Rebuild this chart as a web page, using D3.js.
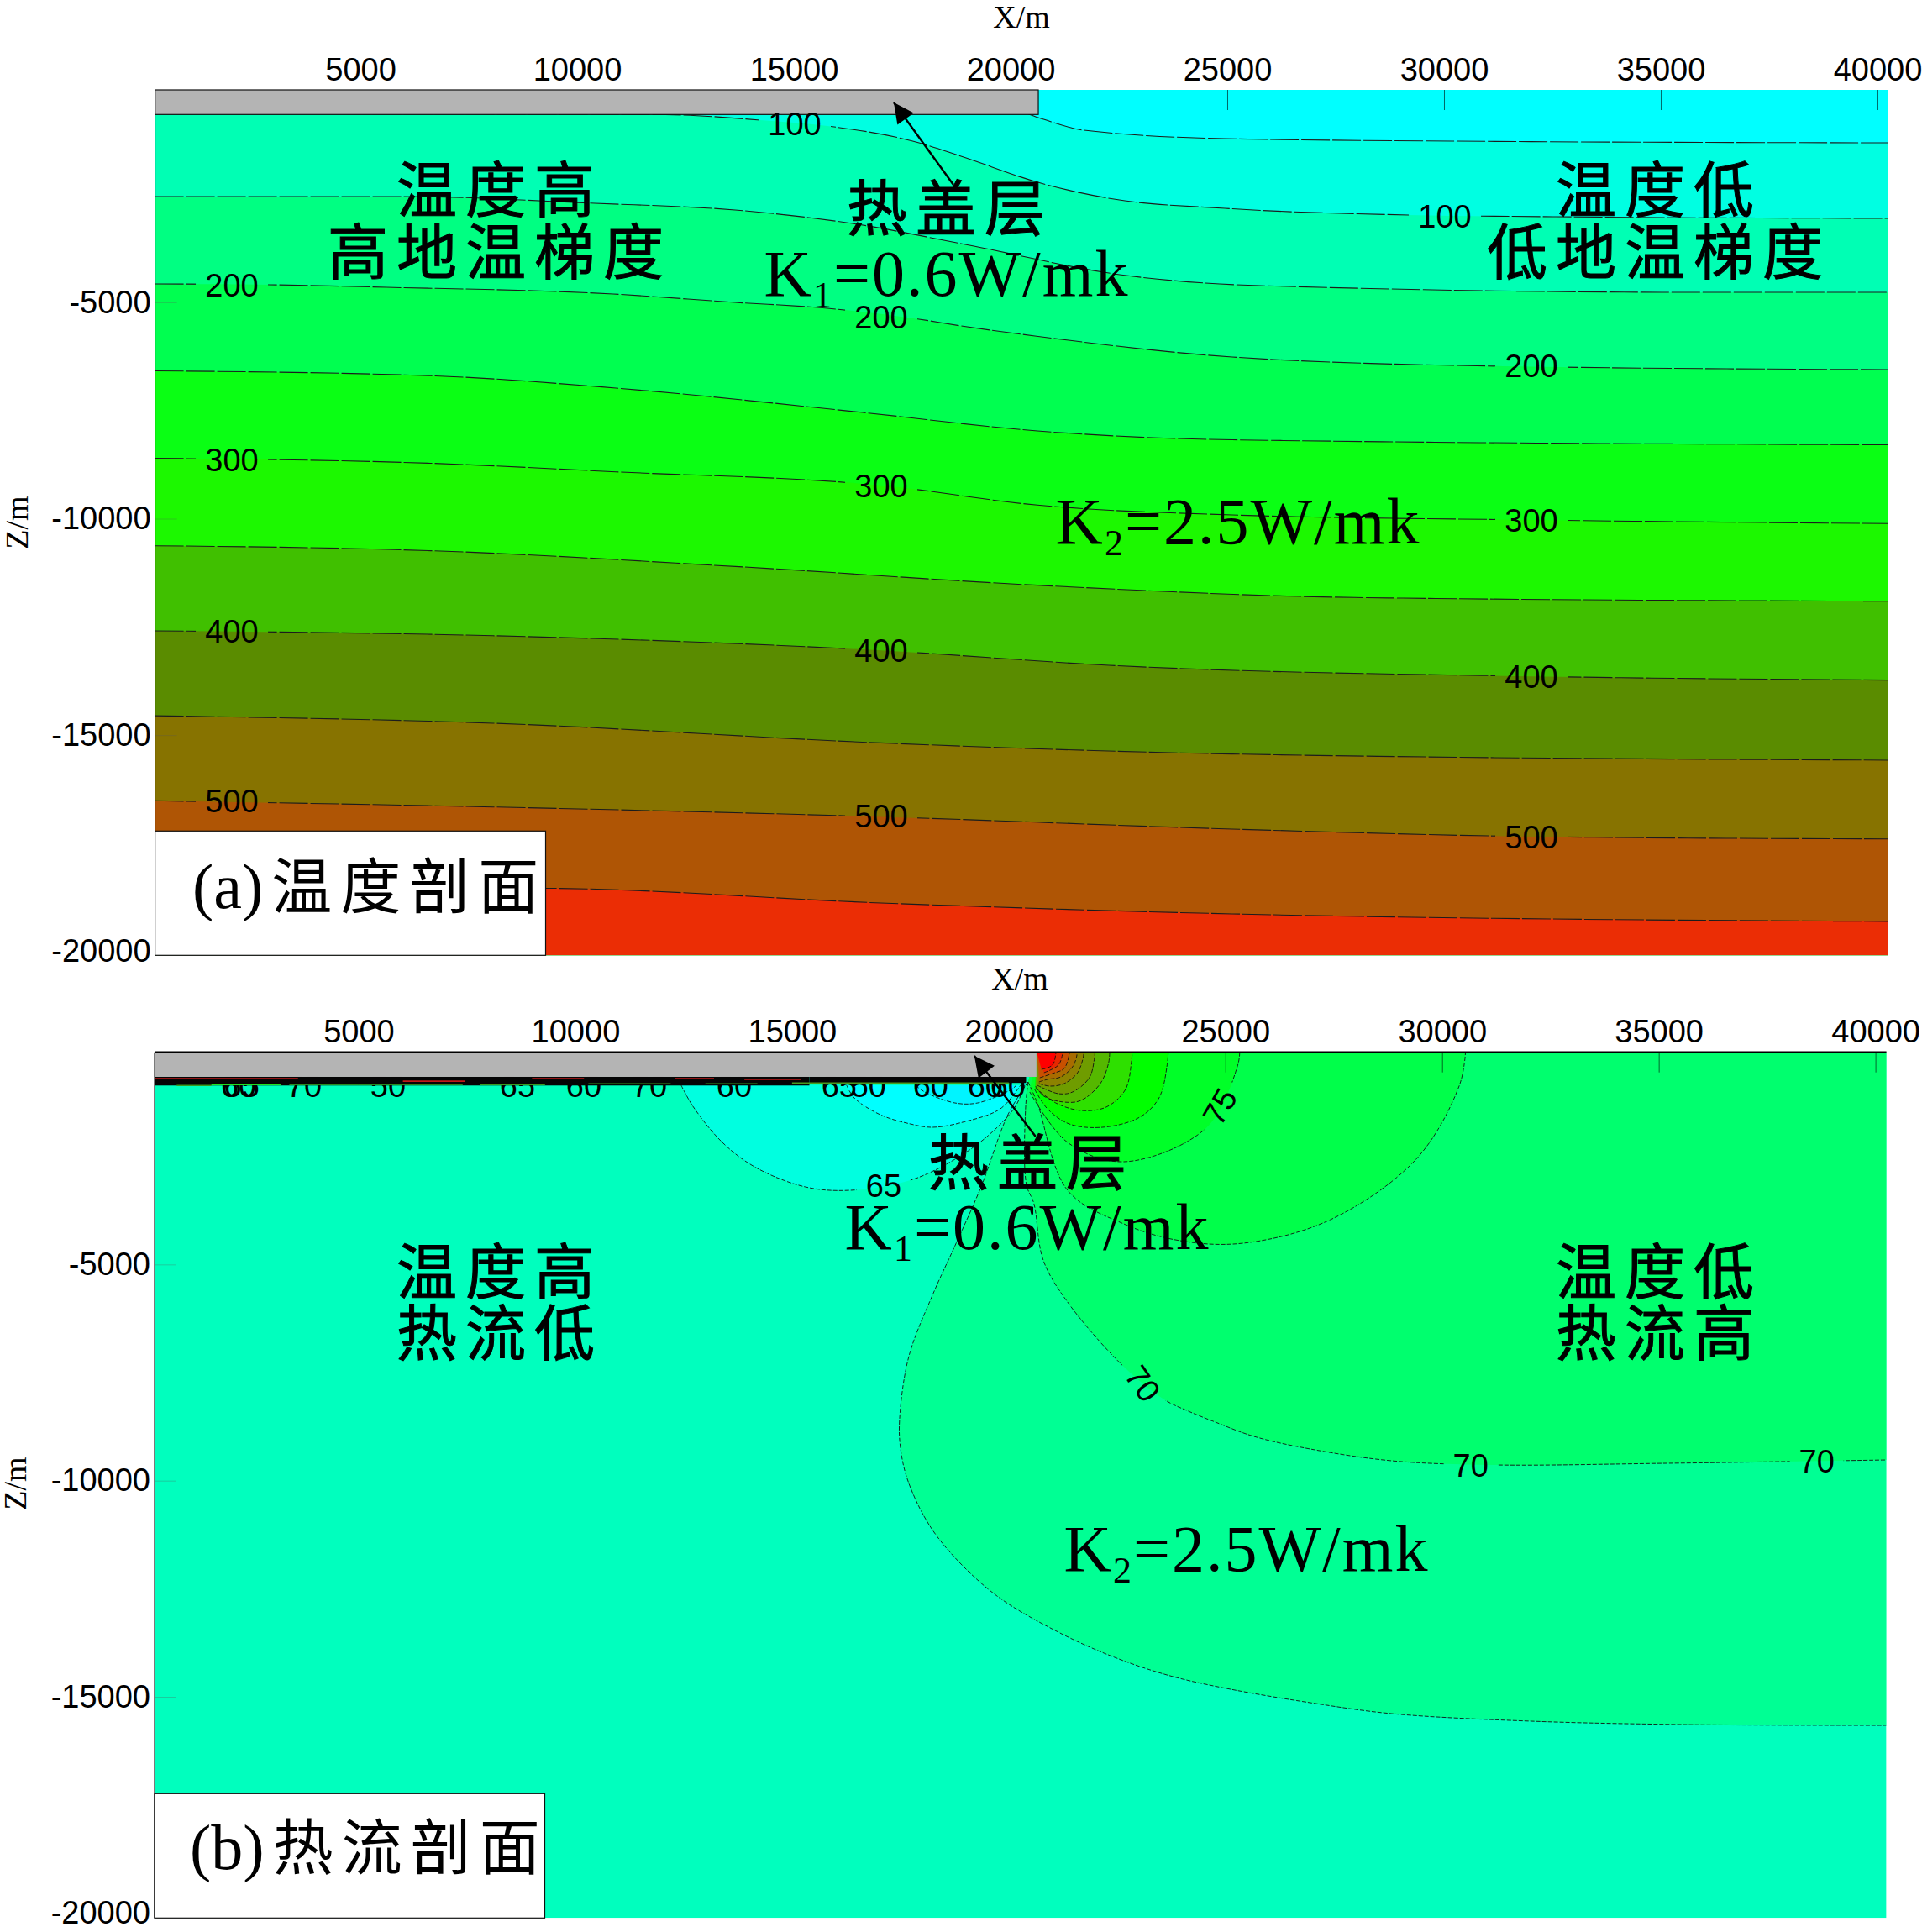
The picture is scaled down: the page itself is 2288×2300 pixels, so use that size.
<!DOCTYPE html>
<html><head><meta charset="utf-8">
<script src="https://cdnjs.cloudflare.com/ajax/libs/d3/7.8.5/d3.min.js"></script>
<style>html,body{margin:0;padding:0;background:#fff}svg{display:block}</style>
</head><body><svg id="c" width="2288" height="2300"></svg>
<script>
// ---------- shared axis values ----------
const xTicks = [5000,10000,15000,20000,25000,30000,35000,40000];
const depthTicks = [5000,10000,15000,20000];   // labelled as negative Z

// ---------- (a) temperature isotherms: [x metres, depth metres] ----------
const iso050 = [[263,500],[19900,500],[20640,732],[21686,1023],[24942,1217],[30175,1275],[40233,1314]];
const iso100 = [[263,640],[12035,664],[14225,790],[15775,926],[17888,1314],[18857,1625],[20698,2246],[22384,2615],[24942,2828],[29186,2983],[32578,3022],[40233,3061]];
const iso150 = [[263,2556],[5988,2556],[10407,2712],[13644,2867],[16473,3197],[18857,3643],[22675,4381],[25756,4614],[35969,4769],[40233,4769]];
const iso200 = [[263,4575],[2907,4594],[5601,4653],[10833,4808],[13644,5002],[15775,5138],[17888,5390],[18857,5545],[20562,5778],[25116,6264],[31357,6477],[40233,6555]];
const iso250 = [[263,6584],[6628,6697],[10892,6982],[16589,7545],[20620,7972],[25116,8177],[40233,8292]];
const iso300 = [[263,8604],[6628,8719],[10892,8917],[17010,9231],[20620,9686],[25116,9913],[32016,10029],[40233,10113]];
const iso350 = [[263,10625],[6628,10740],[13740,11110],[20620,11537],[27946,11821],[40233,11906]];
const iso400 = [[263,12591],[8056,12704],[17010,13045],[22268,13387],[32016,13643],[40233,13729]];
const iso450 = [[263,14554],[8056,14726],[17010,15181],[25116,15437],[40233,15580]];
const iso500 = [[263,16518],[8056,16662],[17010,16889],[25116,17172],[32016,17345],[40233,17401]];
const iso550 = [[263,18511],[9277,18540],[17010,18880],[25116,19132],[40233,19307]];
const isotherms = [iso050,iso100,iso150,iso200,iso250,iso300,iso350,iso400,iso450,iso500,iso550];
const tempBandColors = ["#00ffff","#00ffe2","#00ffb4","#00ff82","#00ff50","#0aff14","#1cf800","#40c000","#5a8c00","#877300","#af5505","#eb2d05"];
// contour labels: [value, x metres, depth metres]
const tempLabels = [[100,15020,868],[100,30020,3003],[200,2035,4594],[200,17016,5332],[200,32016,6470],
 [300,2035,8632],[300,17016,9233],[300,32016,10029],[400,2035,12591],[400,17016,13045],[400,32016,13640],
 [500,2035,16512],[500,17016,16862],[500,32016,17347]];

// ---------- (b) heat-flow contours: [x metres, depth metres] ----------
const flowOuter = [[20446,777],[19981,1535],[19361,3206],[18760,4566],[18256,5674],[17694,7131],[17481,8588],[17500,9229],[17655,9948],[18101,10920],[18682,11697],[19729,12668],[21144,13504],[22442,14087],[23721,14514],[25020,14806],[26958,15136],[28837,15389],[32035,15563],[35524,15641],[40252,15661]];
const flowInner = [[20446,777],[20388,1399],[20407,3148],[20582,3595],[20795,4896],[21357,5868],[22636,7345],[23585,8122],[24147,8394],[24768,8646],[25659,8977],[26958,9268],[28837,9540],[31221,9637],[35213,9598],[40252,9521]];
const flowArcA = [[20446,777],[20659,1263],[21357,3284],[22655,4061],[23954,4449],[25407,4508],[27423,3964],[29419,2545],[30407,835],[30543,60]];
const flowArcB = [[20485,1010],[21357,2176],[22655,2623],[24554,1846],[25291,369],[25330,60]];
const flowArcC = [[20601,952],[20892,1399],[21396,1749],[22171,1826],[23023,1593],[23469,1146],[23663,330],[23680,60]];
const flowArcD = [[20620,913],[21085,1263],[21667,1438],[22248,1360],[22694,952],[22830,330],[22850,60]];
const flowArcE = [[20620,874],[20814,1108],[21279,1244],[21667,1205],[22113,816],[22306,330],[22330,60]];
const flowArcF = [[20659,855],[21144,1049],[21473,1010],[21861,680],[21977,233],[21990,60]];
const flowArcG = [[20698,816],[20950,874],[21279,816],[21589,563],[21725,175],[21730,60]];
const flowArcH = [[20698,777],[20892,719],[21202,661],[21473,427],[21570,175],[21575,60]];
const flowArcI = [[20717,680],[21008,583],[21279,466],[21396,136],[21400,60]];
const flowArcJ = [[20814,563],[21144,389],[21240,136],[21245,60]];
const flowArcK = [[20756,486],[21008,389],[21085,136],[21090,60]];
const warmArcs = [flowOuter,flowInner,flowArcA,flowArcB,flowArcC,flowArcD,flowArcE,flowArcF,flowArcG,flowArcH,flowArcI,flowArcJ,flowArcK];
const warmColors = ["#00ff94","#00ff6e","#00ff4a","#00ff28","#00ff00","#2ee000","#55b800","#6f9c00","#8c8200","#a86c00","#c85000","#e62800","#ff0000"];
const flowBase = "#00ffbe";
const coolP = [[12442,855],[12713,1341],[13392,2176],[14167,2759],[15310,3206],[16337,3284],[17733,3051],[18857,2506],[19632,1924],[20155,1341],[20368,855]];
const coolQ = [[16260,855],[16434,1146],[17035,1535],[17733,1749],[18237,1826],[19012,1690],[19806,1399],[20271,855]];
const coolR = [[17849,855],[18062,1010],[18760,1263],[19283,1263],[20058,952],[20175,855]];
const coolArcs = [coolP,coolQ,coolR];
const coolColors = ["#00ffe0","#00ffff","#00f4ff"];
const flowLabels = [[65,17113,3167,0],[75,24865,1341,-60],[70,23101,7752,55],[70,30659,9637,0],[70,38644,9540,0],
 [60,2229,855,0],[65,2300,855,0],[70,3740,855,0],[50,5678,855,0],[65,8663,855,0],[60,10194,855,0],[70,11705,855,0],
 [60,13663,855,0],[65,16085,855,0],[50,16764,855,0],[60,18198,855,0],[60,19457,855,0],[60,19981,855,0]];
// thin contours crushed beneath the cover: [x0, x1, depth, colour]
const crushedLines = [[290,3600,700,"#c01818"],[6020,7450,760,"#c01818"],[9000,10200,700,"#c01818"],[12300,13200,700,"#c01818"],[13900,15200,720,"#c01818"],
 [800,1600,860,"#3a9a20"],[1600,3200,840,"#20e020"],[3400,5000,840,"#2a8a20"],[5000,7400,840,"#2a8a20"],[7800,9300,840,"#3a9a20"],[10300,12200,820,"#3a9a20"],[13000,14200,820,"#3a9a20"],[15000,20000,800,"#4a9a20"]];
const blackBand = [[290,15400,660,860],[15400,20400,660,800]];

// ---------- annotations ----------
const arrowA = [[18682,2285],[17306,382]];
const arrowB = [[20620,2040],[19206,175]];
const coverEnd = 20640, coverBase = 660;

// ---------- scales ----------
const xA = d3.scaleLinear().domain([263,40233]).range([184.6,2247]);
const yA = d3.scaleLinear().domain([91,20090]).range([107,1137.3]);
const xB = d3.scaleLinear().domain([290,40252]).range([184,2245.6]);
const yB = d3.scaleLinear().domain([91,20116]).range([1252.7,2283.3]);

const svg = d3.select("#c");
const SANS = "'Liberation Sans',Arial,sans-serif", SERIF = "'Liberation Serif','Times New Roman',serif", CJK = "'Noto Sans CJK SC',sans-serif";

const defs = svg.append("defs");
defs.append("marker").attr("id","head").attr("markerUnits","userSpaceOnUse").attr("viewBox","-1 -13 28 26")
  .attr("markerWidth",28).attr("markerHeight",26).attr("refX",24).attr("refY",0).attr("orient","auto")
  .append("path").attr("d","M0,-12L24,0L0,12Z").attr("fill","#000");

function clip(id,x,y){ defs.append("clipPath").attr("id",id).append("rect")
  .attr("x",x.range()[0]).attr("y",y.range()[0]).attr("width",x.range()[1]-x.range()[0]).attr("height",y.range()[1]-y.range()[0]); }
clip("clipA",xA,yA); clip("clipB",xB,yB);

function makeMask(id,x,y,labels){
  const m = defs.append("mask").attr("id",id).attr("maskUnits","userSpaceOnUse").attr("x",0).attr("y",0).attr("width",2288).attr("height",2300);
  m.append("rect").attr("width",2288).attr("height",2300).attr("fill","#fff");
  m.selectAll("rect.g").data(labels).join("rect").attr("class","g")
    .attr("x",d=>x(d[1])-String(d[0]).length*11-10).attr("width",d=>String(d[0]).length*22+20)
    .attr("y",d=>y(d[2])-16).attr("height",32).attr("fill","#000")
    .attr("transform",d=>d[3]?`rotate(${d[3]},${x(d[1])},${y(d[2])})`:null);
}
makeMask("maskA",xA,yA,tempLabels);
makeMask("maskB",xB,yB,flowLabels.slice(0,5));

function axes(g,x,y,pad){
  const top = g.append("g").attr("transform",`translate(0,${y.range()[0]})`)
    .call(d3.axisTop(x).tickValues(xTicks).tickSizeInner(-24).tickSizeOuter(0).tickPadding(pad).tickFormat(String));
  const left = g.append("g").attr("transform",`translate(${x.range()[0]},0)`)
    .call(d3.axisLeft(y).tickValues(depthTicks).tickSizeInner(-26).tickSizeOuter(0).tickPadding(5).tickFormat(d=>"-"+d));
  [top,left].forEach(a=>{a.select(".domain").remove();
    a.selectAll("text").attr("font-family",SANS).attr("font-size",38).attr("fill","#000");});
  top.selectAll("line").attr("stroke","#000").attr("stroke-width",0.8).attr("opacity",.75);
  left.selectAll("line").attr("stroke","#555").attr("stroke-width",1).attr("opacity",.3);
}
function serifLabel(t,xp,yp,size){ return svg.append("text").attr("x",xp).attr("y",yp).attr("font-family",SERIF).attr("font-size",size).attr("text-anchor","middle").attr("fill","#000").text(t); }
function cjk(t,xp,yp){ svg.append("text").attr("x",xp+5).attr("y",yp).attr("font-family",CJK).attr("font-size",72).attr("letter-spacing",10).attr("text-anchor","middle").attr("fill","#000").attr("stroke","#000").attr("stroke-width",1).text(t); }
function kLabel(sub,val,xp,yp){
  const t = svg.append("text").attr("x",xp).attr("y",yp).attr("font-family",SERIF).attr("font-size",78).attr("text-anchor","middle").attr("letter-spacing",2).attr("fill","#000");
  t.append("tspan").text("K");
  t.append("tspan").attr("font-size",44).attr("dy",14).text(sub);
  t.append("tspan").attr("dy",-14).text("="+val+"W/mk");
}
function panelLabel(tag,zh,x0,x1,y0,y1,xp,yp){
  svg.append("rect").attr("x",x0).attr("y",y0).attr("width",x1-x0).attr("height",y1-y0).attr("fill","#fff").attr("stroke","#111").attr("stroke-width",1.2);
  const t = svg.append("text").attr("x",xp).attr("y",yp).attr("fill","#000");
  t.append("tspan").attr("font-family",SERIF).attr("font-size",76).text(tag);
  t.append("tspan").attr("font-family",CJK).attr("font-size",72).attr("letter-spacing",10).attr("dx",10).text(zh);
}
function contourLabels(g,x,y,labels){
  g.selectAll("text.cl").data(labels).join("text").attr("class","cl")
    .attr("font-family",SANS).attr("font-size",38).attr("text-anchor","middle").attr("dy",".36em").attr("fill","#000")
    .attr("transform",d=>`translate(${x(d[1])},${y(d[2])}) rotate(${d[3]||0})`).text(d=>d[0]);
}

// ---------- panel (a) ----------
(function(){
  const g = svg.append("g").attr("clip-path","url(#clipA)");
  g.append("rect").attr("x",xA.range()[0]).attr("y",yA.range()[0]).attr("width",xA.range()[1]-xA.range()[0]).attr("height",yA.range()[1]-yA.range()[0]).attr("fill",tempBandColors[0]);
  const area = d3.area().x(d=>xA(d[0])).y0(d=>yA(d[1])).y1(yA.range()[1]).curve(d3.curveMonotoneX);
  const line = d3.line().x(d=>xA(d[0])).y(d=>yA(d[1])).curve(d3.curveMonotoneX);
  g.selectAll("path.band").data(isotherms).join("path").attr("class","band").attr("d",area).attr("fill",(d,i)=>tempBandColors[i+1]);
  g.append("g").attr("mask","url(#maskA)").selectAll("path").data(isotherms).join("path").attr("d",line)
    .attr("fill","none").attr("stroke","#1c1c1c").attr("stroke-width",1.1).attr("stroke-dasharray","34,3");
  axes(svg.append("g"),xA,yA,11);
  svg.append("rect").attr("x",xA.range()[0]).attr("y",yA.range()[0]).attr("width",xA(coverEnd)-xA.range()[0]).attr("height",yA(coverBase)-yA.range()[0]).attr("fill","#b4b4b4").attr("stroke","#111").attr("stroke-width",1.2);
  svg.append("line").attr("x1",xA.range()[0]).attr("x2",xA.range()[0]).attr("y1",yA.range()[0]).attr("y2",yA.range()[1]).attr("stroke","#222").attr("stroke-width",1);
  contourLabels(svg.append("g"),xA,yA,tempLabels);
})();

// ---------- panel (b) ----------
(function(){
  const g = svg.append("g").attr("clip-path","url(#clipB)");
  g.append("rect").attr("x",xB.range()[0]).attr("y",yB.range()[0]).attr("width",xB.range()[1]-xB.range()[0]).attr("height",yB.range()[1]-yB.range()[0]).attr("fill",flowBase);
  const line = d3.line().x(d=>xB(d[0])).y(d=>yB(d[1])).curve(d3.curveCatmullRom.alpha(.5));
  const straight = d3.line().x(d=>xB(d[0])).y(d=>yB(d[1]));
  const closure = arc => { const last = arc[arc.length-1];
    return last[0]>40000 ? [[40252,60],[coverEnd,60]] : [[coverEnd,60]]; };
  g.selectAll("path.warm").data(warmArcs).join("path").attr("class","warm")
    .attr("d",d=>line(d)+straight(closure(d)).replace("M","L")+"Z").attr("fill",(d,i)=>warmColors[i]);
  g.selectAll("path.cool").data(coolArcs).join("path").attr("class","cool")
    .attr("d",d=>line(d)+"Z").attr("fill",(d,i)=>coolColors[i]);
  const lines = g.append("g").attr("mask","url(#maskB)");
  lines.selectAll("path.w").data(warmArcs).join("path").attr("class","w").attr("d",line).attr("fill","none").attr("stroke","#111").attr("stroke-width",0.9).attr("stroke-dasharray","5,2");
  lines.selectAll("path.c").data(coolArcs).join("path").attr("class","c").attr("d",line).attr("fill","none").attr("stroke","#111").attr("stroke-width",0.9).attr("stroke-dasharray","5,2");
  axes(svg.append("g"),xB,yB,12);
  contourLabels(svg.append("g"),xB,yB,flowLabels);
  svg.append("g").selectAll("rect").data(blackBand).join("rect")
    .attr("x",d=>xB(d[0])).attr("width",d=>xB(d[1])-xB(d[0])).attr("y",d=>yB(d[2])).attr("height",d=>yB(d[3])-yB(d[2])).attr("fill","#050505");
  svg.append("g").selectAll("line").data(crushedLines).join("line")
    .attr("x1",d=>xB(d[0])).attr("x2",d=>xB(d[1])).attr("y1",d=>yB(d[2])).attr("y2",d=>yB(d[2])).attr("stroke",d=>d[3]).attr("stroke-width",1.6);
  svg.append("rect").attr("x",xB.range()[0]).attr("y",yB.range()[0]).attr("width",xB(coverEnd)-xB.range()[0]).attr("height",yB(coverBase)-yB.range()[0]).attr("fill","#b4b4b4");
  svg.append("line").attr("x1",xB.range()[0]).attr("x2",xB.range()[1]).attr("y1",yB.range()[0]).attr("y2",yB.range()[0]).attr("stroke","#000").attr("stroke-width",2.4);
  svg.append("line").attr("x1",xB.range()[0]).attr("x2",xB.range()[0]).attr("y1",yB.range()[0]).attr("y2",yB.range()[1]).attr("stroke","#222").attr("stroke-width",1.2);
})();

// ---------- titles and annotation ----------
serifLabel("X/m",1216,33,38);
serifLabel("X/m",1214,1178,38);
serifLabel("Z/m",33,622,38).attr("transform","rotate(-90,33,622)");
serifLabel("Z/m",31,1766,38).attr("transform","rotate(-90,31,1766)");

cjk("温度高",590,252); cjk("高地温梯度",590,326);
cjk("温度低",1970,252); cjk("低地温梯度",1970,326);
cjk("热盖层",1126,274);
cjk("温度高",590,1540); cjk("热流低",590,1613);
cjk("温度低",1970,1540); cjk("热流高",1970,1613);
cjk("热盖层",1223,1410);
kLabel("1","0.6",1127,352);
kLabel("2","2.5",1474,647);
kLabel("1","0.6",1223,1487);
kLabel("2","2.5",1484,1870);

const arrowLine = (x,y)=>d3.line().x(d=>x(d[0])).y(d=>y(d[1]));
svg.append("path").attr("d",arrowLine(xA,yA)(arrowA)).attr("fill","none").attr("stroke","#000").attr("stroke-width",2.4).attr("marker-end","url(#head)");
svg.append("path").attr("d",arrowLine(xB,yB)(arrowB)).attr("fill","none").attr("stroke","#000").attr("stroke-width",2.4).attr("marker-end","url(#head)");

panelLabel("(a)","温度剖面",184.6,649.5,989.3,1137.3,229,1081);
panelLabel("(b)","热流剖面",184,648.5,2135.3,2283.3,226,2225);
</script></body></html>
